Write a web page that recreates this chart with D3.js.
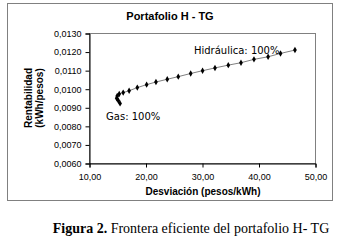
<!DOCTYPE html>
<html>
<head>
<meta charset="utf-8">
<script src="https://cdn.jsdelivr.net/npm/d3@7"></script>
<style>
  body { margin: 0; background: #fff; }
  svg { display: block; }
</style>
</head>
<body>
<svg id="chart" width="341" height="242"></svg>
<script>
// frontier points (desviacion, rentabilidad)
let desviacion = [15.5, 15.2, 14.9, 15.0, 15.35, 16.05, 17.1, 18.55, 20.2, 21.85,
  23.85, 25.8, 28.0, 30.1, 32.3, 34.65, 36.9, 39.2, 41.7, 43.9, 46.45]
let rentabilidad = [0.00921, 0.00935, 0.00948, 0.00961, 0.00972, 0.00979, 0.00989, 0.01006, 0.01022, 0.01036,
  0.01051, 0.01065, 0.01082, 0.01097, 0.01112, 0.01127, 0.01140, 0.01158, 0.01172, 0.01190, 0.01208]
let xTicks = [10, 20, 30, 40, 50]
let yTicks = [0.006, 0.007, 0.008, 0.009, 0.010, 0.011, 0.012, 0.013]

let plot = {left: 89, right: 315, top: 33, bottom: 163}
let svg = d3.select("#chart")

let x = d3.scaleLinear().domain([10, 50]).range([plot.left, plot.right])
let y = d3.scaleLinear().domain([0.006, 0.013]).range([plot.bottom, plot.top])

let comma = f => v => d3.format(f)(v).replace(".", ",")

// outer chart frame
svg.append("rect")
  .attr("x", 7.5).attr("y", 3.5)
  .attr("width", 325).attr("height", 197)
  .attr("fill", "#fff").attr("stroke", "#808080")

// plot area frame
svg.append("rect")
  .attr("x", plot.left + 0.5).attr("y", plot.top + 0.5)
  .attr("width", plot.right - plot.left).attr("height", plot.bottom - plot.top)
  .attr("fill", "none").attr("stroke", "#808080")

let yAxis = svg.append("g")
  .attr("transform", `translate(${plot.left + 0.5},0.5)`)
  .call(d3.axisLeft(y).tickValues(yTicks).tickFormat(comma(".4f")).tickSize(4).tickPadding(4))
let xAxis = svg.append("g")
  .attr("transform", `translate(0.5,${plot.bottom + 0.5})`)
  .call(d3.axisBottom(x).tickValues(xTicks).tickFormat(comma(".2f")).tickSize(4).tickPadding(6))

for (let ax of [xAxis, yAxis]) {
  ax.select(".domain").attr("stroke", "#000")
  ax.selectAll(".tick line").attr("stroke", "#000")
  ax.selectAll("text")
    .attr("font-family", "'Liberation Sans', Arial, sans-serif")
    .attr("font-size", 9)
    .attr("fill", "#000")
}

let points = desviacion.map((d, i) => [d, rentabilidad[i]])

svg.append("path")
  .datum(points)
  .attr("fill", "none")
  .attr("stroke", "#808080")
  .attr("stroke-width", 1)
  .attr("d", d3.line().x(d => x(d[0])).y(d => y(d[1])))

svg.append("g")
  .selectAll("path")
  .data(points).enter()
  .append("path")
  .attr("transform", d => `translate(${x(d[0])},${y(d[1])})`)
  .attr("d", d3.symbol(d3.symbolDiamond, 12))
  .attr("fill", "#000")

// annotations
let last = points[points.length - 1]
svg.append("text")
  .attr("x", x(last[0]) - 101).attr("y", y(last[1]) + 4)
  .attr("font-family", "'DejaVu Sans', sans-serif")
  .attr("font-size", 10)
  .text("Hidráulica: 100%")

svg.append("text")
  .attr("x", x(points[0][0]) - 14).attr("y", y(points[0][1]) + 17)
  .attr("font-family", "'DejaVu Sans', sans-serif")
  .attr("font-size", 10)
  .text("Gas: 100%")

// titles
let bold = sel => sel
  .attr("font-family", "'Liberation Sans', Arial, sans-serif")
  .attr("font-weight", "bold")
  .attr("fill", "#000")

svg.append("text").call(bold)
  .attr("x", 170).attr("y", 20)
  .attr("text-anchor", "middle")
  .attr("font-size", 11)
  .text("Portafolio H - TG")

svg.append("text").call(bold)
  .attr("x", 203).attr("y", 195)
  .attr("text-anchor", "middle")
  .attr("font-size", 10)
  .text("Desviación (pesos/kWh)")

let midY = (plot.top + plot.bottom) / 2
svg.append("text").call(bold)
  .attr("transform", `translate(28,${midY})rotate(-90)`)
  .attr("dy", "0.35em")
  .attr("text-anchor", "middle")
  .attr("font-size", 10)
  .text("Rentabilidad")
svg.append("text").call(bold)
  .attr("transform", `translate(39.5,${midY})rotate(-90)`)
  .attr("dy", "0.35em")
  .attr("text-anchor", "middle")
  .attr("font-size", 10)
  .text("(kWh/pesos)")

// caption
let caption = svg.append("text")
  .attr("x", 191).attr("y", 233)
  .attr("text-anchor", "middle")
  .attr("font-family", "'Liberation Serif', 'Times New Roman', serif")
  .attr("font-size", 14)
  .attr("fill", "#000")
caption.append("tspan").attr("font-weight", "bold").text("Figura 2.")
caption.append("tspan").text(" Frontera eficiente del portafolio H- TG")
</script>
</body>
</html>
